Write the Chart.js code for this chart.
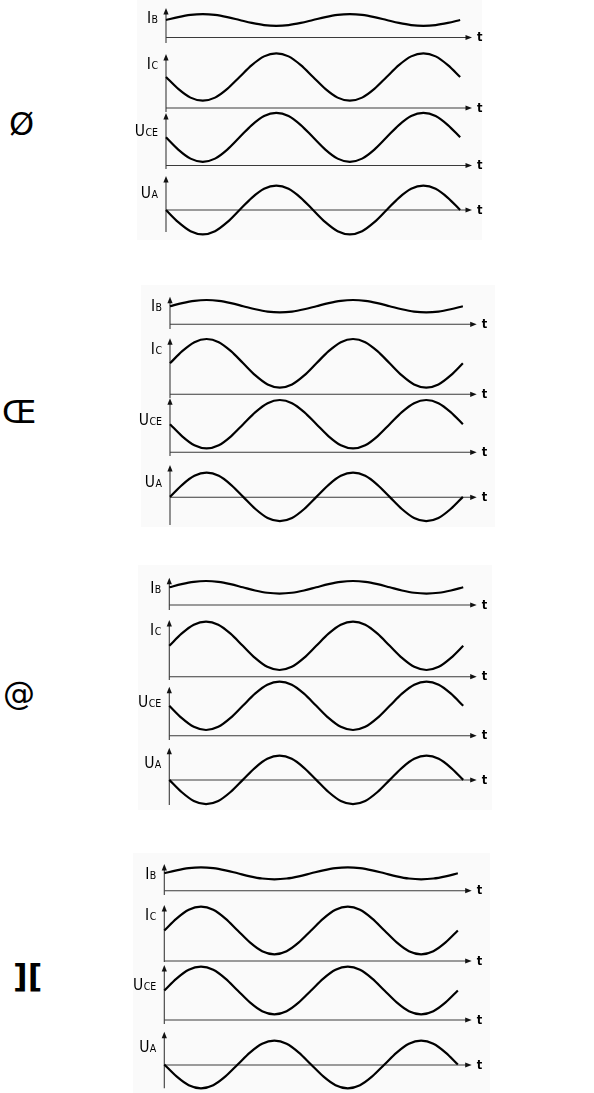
<!DOCTYPE html>
<html>
<head>
<meta charset="utf-8">
<script src="https://cdn.jsdelivr.net/npm/chart.js@4/dist/chart.umd.min.js"></script>
<style>
  html, body { margin: 0; padding: 0; background: #fff; }
  body { position: relative; width: 594px; height: 1093px; overflow: hidden; }
  .mark { position: absolute; font-family: 'DejaVu Sans', sans-serif; font-size: 32px; line-height: 32px; color: #000; white-space: pre; }
  .bg { position: absolute; background: #fafafa; }
</style>
</head>
<body>
<script>
// ---------- data ----------
// phase along the time axis (degrees); each trace spans two full periods
const phaseDeg = [0,30,60,90,120,150,180,210,240,270,300,330,360,390,420,450,480,510,540,570,600,630,660,690,720];

// signal names (main letter, subscript) and the time-axis label
const signalLetters = ['I', 'I', 'U', 'U'];
const signalSubs    = ['B', 'C', 'CE', 'A'];
const timeLabel = 't';

// answer marks at the left of each diagram
const panelMarks = ['Ø', 'Œ', '@', ']['];

// normalised AC part of each trace (+1 crest, -1 trough)
// diagram 1
const p1IB  = [0,0.5,0.87,1,0.87,0.5,0,-0.5,-0.87,-1,-0.87,-0.5,0,0.5,0.87,1,0.87,0.5,0,-0.5,-0.87,-1,-0.87,-0.5,0];
const p1IC  = [0,-0.5,-0.87,-1,-0.87,-0.5,0,0.5,0.87,1,0.87,0.5,0,-0.5,-0.87,-1,-0.87,-0.5,0,0.5,0.87,1,0.87,0.5,0];
const p1UCE = [0,-0.5,-0.87,-1,-0.87,-0.5,0,0.5,0.87,1,0.87,0.5,0,-0.5,-0.87,-1,-0.87,-0.5,0,0.5,0.87,1,0.87,0.5,0];
const p1UA  = [0,-0.5,-0.87,-1,-0.87,-0.5,0,0.5,0.87,1,0.87,0.5,0,-0.5,-0.87,-1,-0.87,-0.5,0,0.5,0.87,1,0.87,0.5,0];
// diagram 2
const p2IB  = [0,0.5,0.87,1,0.87,0.5,0,-0.5,-0.87,-1,-0.87,-0.5,0,0.5,0.87,1,0.87,0.5,0,-0.5,-0.87,-1,-0.87,-0.5,0];
const p2IC  = [0,0.5,0.87,1,0.87,0.5,0,-0.5,-0.87,-1,-0.87,-0.5,0,0.5,0.87,1,0.87,0.5,0,-0.5,-0.87,-1,-0.87,-0.5,0];
const p2UCE = [0,-0.5,-0.87,-1,-0.87,-0.5,0,0.5,0.87,1,0.87,0.5,0,-0.5,-0.87,-1,-0.87,-0.5,0,0.5,0.87,1,0.87,0.5,0];
const p2UA  = [0,0.5,0.87,1,0.87,0.5,0,-0.5,-0.87,-1,-0.87,-0.5,0,0.5,0.87,1,0.87,0.5,0,-0.5,-0.87,-1,-0.87,-0.5,0];
// diagram 3
const p3IB  = [0,0.5,0.87,1,0.87,0.5,0,-0.5,-0.87,-1,-0.87,-0.5,0,0.5,0.87,1,0.87,0.5,0,-0.5,-0.87,-1,-0.87,-0.5,0];
const p3IC  = [0,0.5,0.87,1,0.87,0.5,0,-0.5,-0.87,-1,-0.87,-0.5,0,0.5,0.87,1,0.87,0.5,0,-0.5,-0.87,-1,-0.87,-0.5,0];
const p3UCE = [0,-0.5,-0.87,-1,-0.87,-0.5,0,0.5,0.87,1,0.87,0.5,0,-0.5,-0.87,-1,-0.87,-0.5,0,0.5,0.87,1,0.87,0.5,0];
const p3UA  = [0,-0.5,-0.87,-1,-0.87,-0.5,0,0.5,0.87,1,0.87,0.5,0,-0.5,-0.87,-1,-0.87,-0.5,0,0.5,0.87,1,0.87,0.5,0];
// diagram 4
const p4IB  = [0,0.5,0.87,1,0.87,0.5,0,-0.5,-0.87,-1,-0.87,-0.5,0,0.5,0.87,1,0.87,0.5,0,-0.5,-0.87,-1,-0.87,-0.5,0];
const p4IC  = [0,0.5,0.87,1,0.87,0.5,0,-0.5,-0.87,-1,-0.87,-0.5,0,0.5,0.87,1,0.87,0.5,0,-0.5,-0.87,-1,-0.87,-0.5,0];
const p4UCE = [0,0.5,0.87,1,0.87,0.5,0,-0.5,-0.87,-1,-0.87,-0.5,0,0.5,0.87,1,0.87,0.5,0,-0.5,-0.87,-1,-0.87,-0.5,0];
const p4UA  = [0,-0.5,-0.87,-1,-0.87,-0.5,0,0.5,0.87,1,0.87,0.5,0,-0.5,-0.87,-1,-0.87,-0.5,0,0.5,0.87,1,0.87,0.5,0];

// ---------- layout (page pixels) ----------
const panelLayouts = [
  { series: [p1IB, p1IC, p1UCE, p1UA], canvasTop: 0, canvasH: 245, axisX: 166, tipX: 472, xMax: 749,
    bg: [137, 0, 345, 240], mark: [9, 107.6, false],
    subs: [
      { top: 8,     base: 37.5,  bottom: 43,    center: 20,    amp: 5.8,  labelY: 23 },
      { top: 54,    base: 108,   bottom: 112,   center: 77,    amp: 23.7, labelY: 69 },
      { top: 113,   base: 165.5, bottom: 169,   center: 137.3, amp: 24.5, labelY: 136 },
      { top: 176,   base: 210,   bottom: 232,   center: 210,   amp: 24.3, labelY: 198 } ] },
  { series: [p2IB, p2IC, p2UCE, p2UA], canvasTop: 285, canvasH: 245, axisX: 170, tipX: 476.7, xMax: 754,
    bg: [141, 285, 354, 242], mark: [2, 395.6, false],
    subs: [
      { top: 296.7, base: 324.3, bottom: 329,   center: 306.2, amp: 6.2,  labelY: 311 },
      { top: 338.3, base: 394.3, bottom: 398,   center: 363.3, amp: 24.3, labelY: 354 },
      { top: 398.3, base: 452.3, bottom: 456,   center: 424.2, amp: 24.2, labelY: 425 },
      { top: 465,   base: 497.3, bottom: 525,   center: 496.9, amp: 24.2, labelY: 487 } ] },
  { series: [p3IB, p3IC, p3UCE, p3UA], canvasTop: 565, canvasH: 247, axisX: 169.3, tipX: 476.7, xMax: 753,
    bg: [138, 565, 354, 245], mark: [3, 676.5, false],
    subs: [
      { top: 577.7, base: 605,   bottom: 610,   center: 587.3, amp: 6.3,  labelY: 593 },
      { top: 620,   base: 676.7, bottom: 680,   center: 645.8, amp: 24.2, labelY: 635 },
      { top: 686.7, base: 735.7, bottom: 740,   center: 705.8, amp: 24.2, labelY: 707 },
      { top: 747.7, base: 780,   bottom: 805,   center: 779.9, amp: 24.2, labelY: 768 } ] },
  { series: [p4IB, p4IC, p4UCE, p4UA], canvasTop: 850, canvasH: 243, axisX: 164.3, tipX: 471.7, xMax: 754,
    bg: [133, 853, 357, 240], mark: [13, 960, true],
    subs: [
      { top: 864,    base: 890.7, bottom: 895,    center: 873.3,  amp: 6,    labelY: 879 },
      { top: 905,    base: 961,   bottom: 962,    center: 930.5,  amp: 23.8, labelY: 920 },
      { top: 965,    base: 1020,  bottom: 1024,   center: 990.5,  amp: 23.8, labelY: 990 },
      { top: 1031.7, base: 1065,  bottom: 1088.3, center: 1064.5, amp: 23.8, labelY: 1052 } ] }
];

const LABEL_FONT = "'DejaVu Sans Condensed', 'Liberation Sans Narrow', 'DejaVu Sans', sans-serif";

function makeAxesPlugin(p) {
  return {
    id: 'axesDecor',
    beforeDatasetsDraw(chart) {
      const ctx = chart.ctx;
      const L = chart.chartArea.left, R = chart.chartArea.right;
      const off = p.canvasTop;
      ctx.save();
      p.subs.forEach((s, si) => {
        const top = s.top - off, base = s.base - off, bottom = s.bottom - off;
        // vertical axis
        ctx.strokeStyle = '#3a3a3a';
        ctx.fillStyle = '#111';
        ctx.lineWidth = 1.1;
        ctx.beginPath();
        ctx.moveTo(L, top + 4);
        ctx.lineTo(L, bottom);
        ctx.stroke();
        ctx.beginPath();
        ctx.moveTo(L, top);
        ctx.lineTo(L - 2.6, top + 6.5);
        ctx.lineTo(L + 2.6, top + 6.5);
        ctx.closePath();
        ctx.fill();
        // time axis
        ctx.beginPath();
        ctx.moveTo(L, base);
        ctx.lineTo(R - 4, base);
        ctx.stroke();
        ctx.beginPath();
        ctx.moveTo(R, base);
        ctx.lineTo(R - 6.5, base - 2.6);
        ctx.lineTo(R - 6.5, base + 2.6);
        ctx.closePath();
        ctx.fill();
        // "t"
        ctx.fillStyle = '#000';
        ctx.font = "bold 11.5px 'DejaVu Sans', sans-serif";
        ctx.textAlign = 'left';
        ctx.textBaseline = 'alphabetic';
        ctx.fillText(timeLabel, R + 5, base + 3.5);
        // signal name with subscript
        const ly = s.labelY - off;
        ctx.font = '15.5px ' + LABEL_FONT;
        const mainW = ctx.measureText(signalLetters[si]).width;
        ctx.font = '10.5px ' + LABEL_FONT;
        const subW = ctx.measureText(signalSubs[si]).width;
        const x0 = L - 8 - mainW - subW - 0.5;
        ctx.font = '15.5px ' + LABEL_FONT;
        ctx.fillText(signalLetters[si], x0, ly);
        ctx.font = '10.5px ' + LABEL_FONT;
        ctx.fillText(signalSubs[si], x0 + mainW + 0.5, ly);
      });
      ctx.restore();
    }
  };
}

panelLayouts.forEach((p, pi) => {
  const bg = document.createElement('div');
  bg.className = 'bg';
  bg.style.left = p.bg[0] + 'px'; bg.style.top = p.bg[1] + 'px';
  bg.style.width = p.bg[2] + 'px'; bg.style.height = p.bg[3] + 'px';
  document.body.appendChild(bg);

  const mk = document.createElement('div');
  mk.className = 'mark';
  mk.textContent = panelMarks[pi];
  mk.style.left = p.mark[0] + 'px';
  mk.style.top = p.mark[1] + 'px';
  if (p.mark[2]) mk.style.fontWeight = 'bold';
  document.body.appendChild(mk);

  const cv = document.createElement('canvas');
  cv.width = 594; cv.height = p.canvasH;
  cv.style.cssText = 'position:absolute;left:0;top:' + p.canvasTop + 'px;width:594px;height:' + p.canvasH + 'px';
  document.body.appendChild(cv);

  const scales = { x: { type: 'linear', min: 0, max: p.xMax, display: false } };
  const datasets = [];
  p.subs.forEach((s, si) => {
    const c = s.center - p.canvasTop;
    scales['y' + si] = { type: 'linear', display: false, min: (c - p.canvasH) / s.amp, max: c / s.amp };
    datasets.push({
      label: signalLetters[si] + signalSubs[si],
      data: phaseDeg.map((d, i) => ({ x: d, y: p.series[si][i] })),
      yAxisID: 'y' + si,
      borderColor: '#000',
      borderWidth: 2.2,
      pointRadius: 0,
      cubicInterpolationMode: 'monotone',
      fill: false,
      clip: false
    });
  });

  new Chart(cv, {
    type: 'line',
    data: { datasets },
    options: {
      responsive: false,
      animation: false,
      devicePixelRatio: 1,
      layout: { padding: { left: p.axisX, right: 594 - p.tipX, top: 0, bottom: 0 } },
      plugins: { legend: { display: false }, tooltip: { enabled: false } },
      scales
    },
    plugins: [makeAxesPlugin(p)]
  });
});
</script>
</body>
</html>
